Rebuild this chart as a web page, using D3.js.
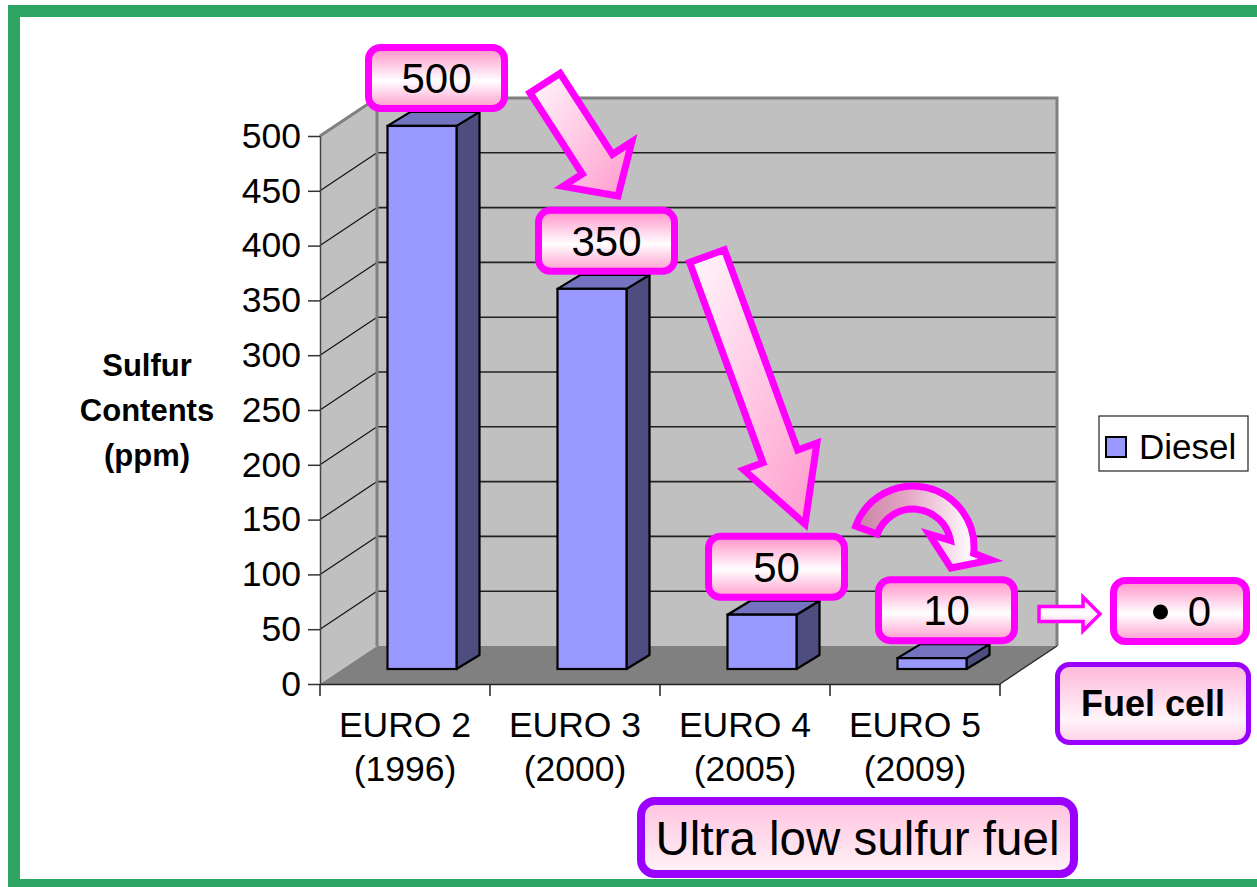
<!DOCTYPE html>
<html><head><meta charset="utf-8">
<script src="https://cdn.jsdelivr.net/npm/d3@7"></script>
<style>body{margin:0;background:#fff;overflow:hidden}svg{display:block;font-family:"Liberation Sans",Arial,sans-serif}</style>
</head><body>
<svg id="c" width="1257" height="887"></svg>
<script>
// ---------------- data ----------------
const categories = ["EURO 2", "EURO 3", "EURO 4", "EURO 5"];
const years = ["(1996)", "(2000)", "(2005)", "(2009)"];
const diesel = [500, 350, 50, 10];
const yTicks = [0, 50, 100, 150, 200, 250, 300, 350, 400, 450, 500];
const seriesName = "Diesel";
const yTitle = ["Sulfur", "Contents", "(ppm)"];
const fuelCellValue = "0";
const fuelCellLabel = "Fuel cell";
const ulsfLabel = "Ultra low sulfur fuel";

// ---------------- layout ----------------
const svg = d3.select("#c");
const X0 = 320, X1 = 1000, Y0 = 684, Y1 = 136;
const DX = 57, DY = -38;          // wall depth
const FX = 17, FY = -15;          // bar plane offset
const BW = 69, BDX = 23, BDY = -14; // bar width and depth

const x = d3.scaleBand().domain(categories).range([X0, X1]);
const y = d3.scaleLinear().domain([0, 500]).range([Y0, Y1]);
const yBar = d3.scaleLinear().domain(y.domain()).range([Y0 + FY, Y0 + FY - (Y0 - Y1) * 0.991]);

const defs = svg.append("defs");
function vGrad(id, stops) {
  const g = defs.append("linearGradient").attr("id", id).attr("x1", 0).attr("y1", 0).attr("x2", 0).attr("y2", 1);
  stops.forEach(s => g.append("stop").attr("offset", s[0]).attr("stop-color", s[1]));
}
vGrad("gPink", [[0, "#ff8fc7"], [0.55, "#ffffff"], [1, "#ff9acd"]]);
vGrad("gPurple", [[0, "#ffb6d9"], [0.7, "#fff4f9"], [1, "#ffcfe6"]]);
vGrad("gUltra", [[0, "#ffc2de"], [1, "#fff4f8"]]);
const ga = defs.append("linearGradient").attr("id", "gArrow").attr("x1", 0).attr("y1", 0).attr("x2", 1).attr("y2", 1);
ga.append("stop").attr("offset", 0).attr("stop-color", "#fff8fc");
ga.append("stop").attr("offset", 1).attr("stop-color", "#ff9acc");
const gc = defs.append("linearGradient").attr("id", "gCurve").attr("gradientUnits", "userSpaceOnUse")
  .attr("x1", 850).attr("y1", 0).attr("x2", 975).attr("y2", 0);
gc.append("stop").attr("offset", 0).attr("stop-color", "#c27f9e");
gc.append("stop").attr("offset", 0.45).attr("stop-color", "#e4a6c4");
gc.append("stop").attr("offset", 1).attr("stop-color", "#ffffff");
vGrad("gSmall", [[0, "#ffd6ee"], [0.5, "#ffffff"], [1, "#ffa6d6"]]);

// frame
svg.append("rect").attr("x", 14).attr("y", 11).attr("width", 1250).attr("height", 874)
  .attr("fill", "#fff").attr("stroke", "#2ea462").attr("stroke-width", 12);

// ---------------- walls ----------------
const poly = pts => "M" + pts.map(p => p.join(",")).join("L") + "Z";
const plot = svg.append("g");
plot.append("path").attr("d", poly([[X0, Y1], [X0 + DX, Y1 + DY], [X0 + DX, Y0 + DY], [X0, Y0]]))
  .attr("fill", "#c0c0c0").attr("stroke", "none");
plot.append("rect").attr("x", X0 + DX).attr("y", Y1 + DY).attr("width", X1 - X0).attr("height", Y0 - Y1)
  .attr("fill", "#c0c0c0");
yTicks.filter(v => v > 0).forEach(v => {
  plot.append("line").attr("x1", X0 + DX).attr("x2", X1 + DX).attr("y1", y(v) + DY).attr("y2", y(v) + DY)
    .attr("stroke", "#222").attr("stroke-width", 1.6);
  plot.append("line").attr("x1", X0).attr("x2", X0 + DX).attr("y1", y(v)).attr("y2", y(v) + DY)
    .attr("stroke", "#111").attr("stroke-width", 1.2);
});
plot.append("path").attr("d", `M${X0},${Y1}L${X0 + DX},${Y1 + DY}L${X1 + DX},${Y1 + DY}L${X1 + DX},${Y0 + DY}`)
  .attr("fill", "none").attr("stroke", "#808080").attr("stroke-width", 3);
plot.append("line").attr("x1", X0 + DX).attr("x2", X0 + DX).attr("y1", Y1 + DY).attr("y2", Y0 + DY)
  .attr("stroke", "#808080").attr("stroke-width", 3);
plot.append("path").attr("d", poly([[X0, Y0], [X0 + DX, Y0 + DY], [X1 + DX, Y0 + DY], [X1, Y0]]))
  .attr("fill", "#808080");
plot.append("line").attr("x1", X1).attr("y1", Y0).attr("x2", X1 + DX).attr("y2", Y0 + DY)
  .attr("stroke", "#222").attr("stroke-width", 1.2);

// ---------------- bars ----------------
const bars = plot.append("g").selectAll("g").data(categories.map((c, i) => ({ c, v: diesel[i] }))).join("g");
bars.each(function (d) {
  const g = d3.select(this);
  const x0 = x(d.c) + (x.bandwidth() - BW) / 2 + FX, x1 = x0 + BW;
  const yt = yBar(d.v), yb = yBar(0);
  g.append("path").attr("d", poly([[x1, yt], [x1 + BDX, yt + BDY], [x1 + BDX, yb + BDY], [x1, yb]]))
    .attr("fill", "#4d4d80").attr("stroke", "#000").attr("stroke-width", 2.2).attr("stroke-linejoin", "round");
  g.append("path").attr("d", poly([[x0, yt], [x1, yt], [x1 + BDX, yt + BDY], [x0 + BDX, yt + BDY]]))
    .attr("fill", "#7373bf").attr("stroke", "#000").attr("stroke-width", 2.2).attr("stroke-linejoin", "round");
  g.append("rect").attr("x", x0).attr("y", yt).attr("width", BW).attr("height", yb - yt)
    .attr("fill", "#9999ff").attr("stroke", "#000").attr("stroke-width", 2.2);
});

// ---------------- axes ----------------
const yAxis = svg.append("g").attr("transform", `translate(${X0},0)`)
  .call(d3.axisLeft(y).tickValues(yTicks).tickSize(12).tickSizeOuter(0).tickPadding(7));
yAxis.select(".domain").attr("stroke", "#444").attr("stroke-width", 1.5);
yAxis.selectAll(".tick line").attr("stroke", "#333").attr("stroke-width", 1.5);
yAxis.selectAll("text").attr("font-size", 35.5).attr("fill", "#000").attr("font-family", "Liberation Sans, Arial, sans-serif");

const xAxis = svg.append("g").attr("transform", `translate(0,${Y0})`)
  .call(d3.axisBottom(x).tickSize(0).tickSizeOuter(0).tickFormat(""));
xAxis.select(".domain").attr("stroke", "#222").attr("stroke-width", 1.5);
const bounds = categories.map(c => x(c)).concat([x(categories[categories.length - 1]) + x.step()]);
xAxis.selectAll(".bnd").data(bounds).join("line").attr("x1", d => d).attr("x2", d => d)
  .attr("y1", 0).attr("y2", 12).attr("stroke", "#222").attr("stroke-width", 1.5);
const xl = svg.append("g").selectAll("text").data(categories).join("text")
  .attr("text-anchor", "middle").attr("font-size", 35.5).attr("fill", "#000");
xl.append("tspan").attr("x", d => x(d) + x.bandwidth() / 2).attr("y", 737).text(d => d);
xl.append("tspan").attr("x", d => x(d) + x.bandwidth() / 2).attr("y", 781).text((d, i) => years[i]);

// y title
svg.append("g").selectAll("text").data(yTitle).join("text")
  .attr("x", 147).attr("y", (d, i) => 376 + i * 45).attr("text-anchor", "middle")
  .attr("font-size", 31).attr("font-weight", "bold").text(d => d);

// legend
const lg = svg.append("g");
lg.append("rect").attr("x", 1099).attr("y", 416).attr("width", 149).attr("height", 55)
  .attr("fill", "#fff").attr("stroke", "#222").attr("stroke-width", 1.2);
lg.append("rect").attr("x", 1106).attr("y", 437).attr("width", 20).attr("height", 20)
  .attr("fill", "#9999ff").attr("stroke", "#000").attr("stroke-width", 2);
lg.append("text").attr("x", 1139).attr("y", 459).attr("font-size", 35).text(seriesName);

// ---------------- annotations ----------------
const ann = svg.append("g");
function blockArrow(tx, ty, hx, hy, sw, hw, hl) {
  const L = Math.hypot(hx - tx, hy - ty), ux = (hx - tx) / L, uy = (hy - ty) / L, px = -uy, py = ux;
  const bx = hx - ux * hl, by = hy - uy * hl;
  return poly([[tx + px * sw / 2, ty + py * sw / 2], [bx + px * sw / 2, by + py * sw / 2], [bx + px * hw / 2, by + py * hw / 2],
    [hx, hy], [bx - px * hw / 2, by - py * hw / 2], [bx - px * sw / 2, by - py * sw / 2], [tx - px * sw / 2, ty - py * sw / 2]]);
}
ann.append("path").attr("d", blockArrow(545, 83, 618, 196, 36, 82, 38))
  .attr("fill", "url(#gArrow)").attr("stroke", "#ff00ff").attr("stroke-width", 7);
ann.append("path").attr("d", blockArrow(707, 256, 805, 524, 37, 78, 72))
  .attr("fill", "url(#gArrow)").attr("stroke", "#ff00ff").attr("stroke-width", 7);
(function () {
  const cx = 913, cy = 547, Ro = 61, Ri = 38, rad = Math.PI / 180;
  const a0 = -160 * rad, a1o = 6 * rad, a1i = -10 * rad;
  const p = d3.path();
  p.moveTo(cx + Ro * Math.cos(a0), cy + Ro * Math.sin(a0));
  p.arc(cx, cy, Ro, a0, a1o, false);
  p.lineTo(991, 560); p.lineTo(951, 568); p.lineTo(929, 534);
  p.lineTo(cx + Ri * Math.cos(a1i), cy + Ri * Math.sin(a1i));
  p.arc(cx, cy, Ri, a1i, a0, true);
  p.closePath();
  ann.append("path").attr("d", p.toString()).attr("fill", "url(#gCurve)")
    .attr("stroke", "#ff00ff").attr("stroke-width", 7).attr("stroke-linejoin", "miter");
})();
ann.append("path").attr("d", blockArrow(1039, 614, 1100, 614, 15, 34, 17))
  .attr("fill", "url(#gSmall)").attr("stroke", "#ff00ff").attr("stroke-width", 3.5);

function box(cx, cy, w, h, r, stroke, sw, fill, text, fs, weight) {
  const g = ann.append("g");
  g.append("rect").attr("x", cx - w / 2 + sw / 2).attr("y", cy - h / 2 + sw / 2).attr("width", w - sw).attr("height", h - sw)
    .attr("rx", r).attr("fill", fill).attr("stroke", stroke).attr("stroke-width", sw);
  if (text !== null) g.append("text").attr("x", cx).attr("y", cy).attr("dy", "0.36em").attr("text-anchor", "middle")
    .attr("font-size", fs).attr("font-weight", weight || "normal").text(text);
  return g;
}
categories.forEach((c, i) => {
  const bxC = x(c) + x.bandwidth() / 2 + FX + BDX / 2 + 3;
  const bottom = yBar(diesel[i]) + BDY;
  box(bxC, bottom - 34, 143, 68, 12, "#ff00ff", 7, "url(#gPink)", String(diesel[i]), 42);
});
const zb = box(1180, 611, 140, 68, 12, "#ff00ff", 7, "url(#gPink)", null, 40);
zb.append("circle").attr("cx", 1160.5).attr("cy", 612).attr("r", 7.5).attr("fill", "#000");
zb.append("text").attr("x", 1199.5).attr("y", 611).attr("dy", "0.36em").attr("text-anchor", "middle")
  .attr("font-size", 42).text(fuelCellValue);
box(1153, 703.5, 196, 83, 12, "#9900ff", 5, "url(#gPurple)", fuelCellLabel, 36, "bold");
box(857.5, 837.5, 441, 81, 14, "#9900ff", 8, "url(#gUltra)", ulsfLabel, 47.5);
</script>
</body></html>
